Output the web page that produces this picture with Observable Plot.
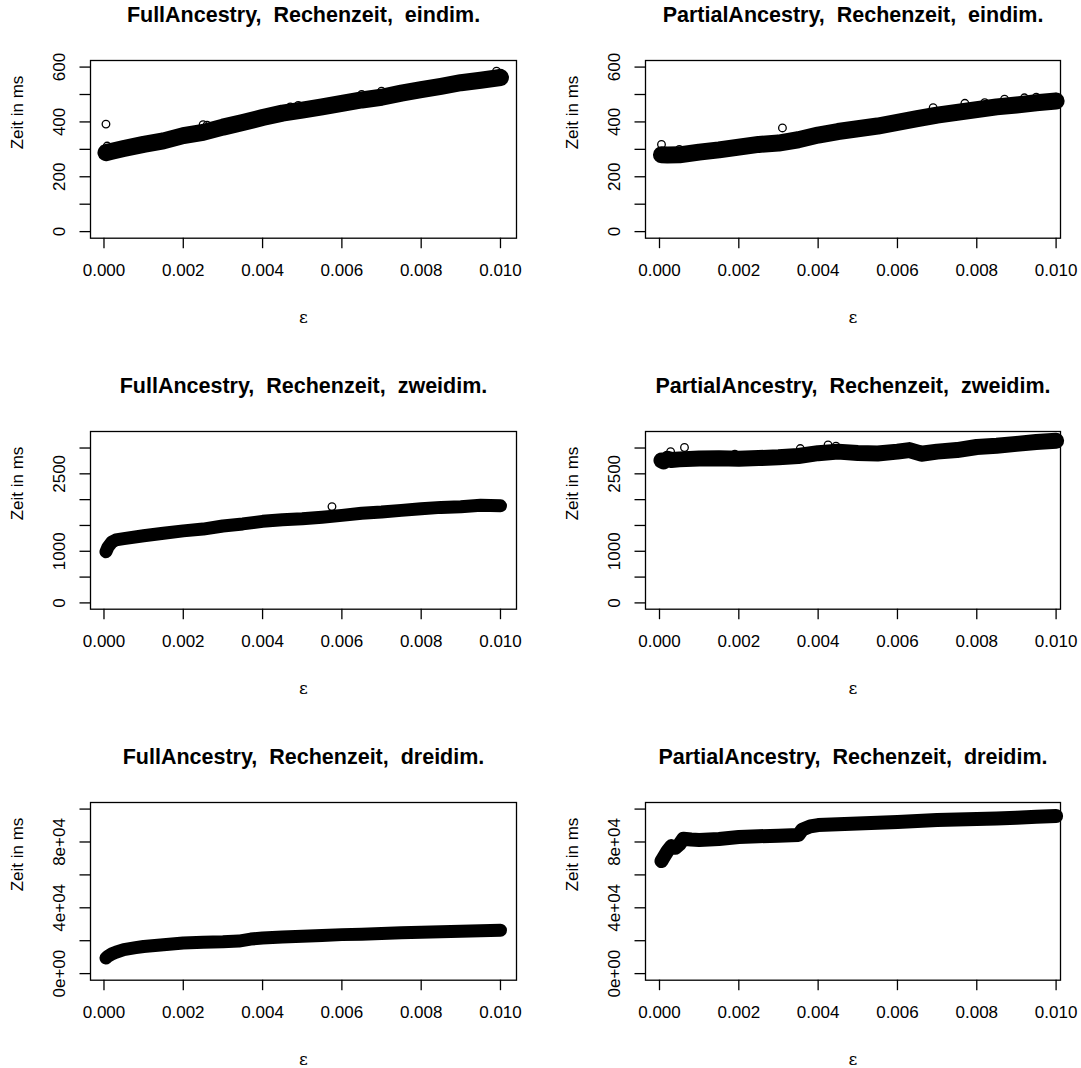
<!DOCTYPE html>
<html><head><meta charset="utf-8">
<script src="https://cdn.jsdelivr.net/npm/d3@7"></script>
<script src="https://cdn.jsdelivr.net/npm/@observablehq/plot@0.6"></script>
<style>
body{margin:0;background:#fff;}
#root{position:relative;width:1081px;height:1068px;overflow:hidden;background:#fff;}
.panel{position:absolute;}
.panel svg{overflow:visible;}
</style></head><body><div id="root"></div>
<script>
// ---- text ----
const titles = [
  "FullAncestry,  Rechenzeit,  eindim.", "PartialAncestry,  Rechenzeit,  eindim.",
  "FullAncestry,  Rechenzeit,  zweidim.", "PartialAncestry,  Rechenzeit,  zweidim.",
  "FullAncestry,  Rechenzeit,  dreidim.", "PartialAncestry,  Rechenzeit,  dreidim."
];
const yLabel = "Zeit in ms";
const xLabel = "ε";
const xTicks = [0, 0.002, 0.004, 0.006, 0.008, 0.010];
const xTickLabels = ["0.000", "0.002", "0.004", "0.006", "0.008", "0.010"];

const yTicks1 = [0, 100, 200, 300, 400, 500, 600];
const yLab1 = [0, 200, 400, 600];
const yLabText1 = ["0", "200", "400", "600"];
const yTicks2 = [0, 500, 1000, 1500, 2000, 2500, 3000];
const yLab2 = [0, 1000, 2500];
const yLabText2 = ["0", "1000", "2500"];
const yTicks3 = [0, 20000, 40000, 60000, 80000, 100000];
const yLab3 = [0, 40000, 80000];
const yLabText3 = ["0e+00", "4e+04", "8e+04"];

// ---- data: FullAncestry eindim ----
const eps1 = [0.00005,0.0002,0.0005,0.001,0.0015,0.002,0.0025,0.003,0.0035,0.004,0.0045,0.005,0.0055,0.006,0.0065,0.007,0.0075,0.008,0.0085,0.009,0.0095,0.01];
const val1 = [288,293,303,318,331,350,362,381,398,416,432,443,455,468,480,490,505,518,530,543,552,562];
const out1x = [0.00005,0.00008,0.0025,0.0026,0.0047,0.0049,0.0065,0.0070,0.0099,0.0100];
const out1y = [392,312,390,388,455,460,500,512,585,578];

// ---- PartialAncestry eindim ----
const eps2 = [0.00005,0.0002,0.0005,0.001,0.0015,0.002,0.0025,0.003,0.0035,0.004,0.0045,0.005,0.0055,0.006,0.0065,0.007,0.0075,0.008,0.0085,0.009,0.0095,0.01];
const val2 = [280,279,280,290,298,308,318,323,335,352,365,375,385,398,412,425,435,445,455,462,470,476];
const out2x = [0.00005,0.0005,0.0031,0.0069,0.0077,0.0082,0.0087,0.0092,0.0095,0.0100];
const out2y = [318,300,378,452,468,470,483,488,490,490];

// ---- FullAncestry zweidim ----
const eps3 = [0.00005,0.0001,0.0002,0.0003,0.0005,0.001,0.0015,0.002,0.0025,0.003,0.0035,0.004,0.0045,0.005,0.0055,0.006,0.0065,0.007,0.0075,0.008,0.0085,0.009,0.0095,0.01];
const val3 = [990,1080,1180,1220,1245,1300,1350,1395,1430,1490,1530,1580,1610,1630,1660,1695,1738,1760,1792,1822,1850,1862,1893,1880];
const out3x = [0.00575];
const out3y = [1865];

// ---- PartialAncestry zweidim ----
const eps4 = [0.00005,0.0001,0.0002,0.0003,0.0005,0.001,0.0015,0.002,0.0025,0.003,0.0035,0.004,0.0045,0.005,0.0055,0.006,0.0063,0.0066,0.007,0.0075,0.008,0.0085,0.009,0.0095,0.01];
const val4 = [2760,2740,2790,2770,2780,2795,2800,2790,2805,2820,2845,2900,2930,2905,2895,2930,2960,2890,2930,2960,3020,3045,3080,3115,3140];
const out4x = [0.00028,0.00063,0.00355,0.00425,0.00445,0.0019];
const out4y = [2930,3010,2990,3060,3035,2880];

// ---- FullAncestry dreidim ----
const eps5 = [0.00005,0.0001,0.0002,0.0003,0.0005,0.0008,0.001,0.0015,0.002,0.0025,0.003,0.0034,0.0037,0.004,0.0045,0.005,0.0055,0.006,0.0065,0.007,0.0075,0.008,0.0085,0.009,0.0095,0.01];
const val5 = [9500,10500,12000,13000,14600,15800,16500,17500,18600,19100,19300,19800,21000,21600,22200,22700,23200,23700,24000,24400,24800,25100,25400,25800,26100,26400];
const out5x = [];
const out5y = [];

// ---- PartialAncestry dreidim ----
const eps6 = [0.00005,0.0001,0.0002,0.0003,0.0004,0.0005,0.0006,0.0008,0.001,0.0015,0.002,0.0025,0.003,0.0035,0.0036,0.0038,0.004,0.0045,0.005,0.0055,0.006,0.0065,0.007,0.0075,0.008,0.0085,0.009,0.0095,0.01];
const val6 = [68400,70500,74500,77500,76500,78500,82000,81500,81200,81800,83000,83500,83800,84200,87500,89500,90300,90800,91200,91700,92200,92700,93400,93600,93900,94300,94800,95300,95800];
const out6x = [];
const out6y = [];

// ---- layout ----
const leftCol = {left: 0, w: 540, ml: 90, mr: 24, xdom: [-0.00034, 0.010404]};
const rightCol = {left: 540, w: 541, ml: 105, mr: 21, xdom: [-0.000353, 0.010111]};
const rows = [
  {top: 0, ydom: [-24, 624], ticks: yTicks1, lab: yLab1, labText: yLabText1},
  {top: 371, ydom: [-122, 3320], ticks: yTicks2, lab: yLab2, labText: yLabText2},
  {top: 742, ydom: [-4000, 104000], ticks: yTicks3, lab: yLab3, labText: yLabText3}
];
const panels = [
  {col: leftCol, row: rows[0], title: titles[0], eps: eps1, val: val1, ox: out1x, oy: out1y, bw: 17},
  {col: rightCol, row: rows[0], title: titles[1], eps: eps2, val: val2, ox: out2x, oy: out2y, bw: 17},
  {col: leftCol, row: rows[1], title: titles[2], eps: eps3, val: val3, ox: out3x, oy: out3y, bw: 13},
  {col: rightCol, row: rows[1], title: titles[3], eps: eps4, val: val4, ox: out4x, oy: out4y, bw: 16},
  {col: leftCol, row: rows[2], title: titles[4], eps: eps5, val: val5, ox: out5x, oy: out5y, bw: 13},
  {col: rightCol, row: rows[2], title: titles[5], eps: eps6, val: val6, ox: out6x, oy: out6y, bw: 14}
];

const FONT = "'Liberation Sans', Arial, Helvetica, sans-serif";
const root = document.getElementById("root");

for (const p of panels) {
  const band = p.eps.map((e, i) => ({x: e, y: p.val[i]}));
  const outs = p.ox.map((e, i) => ({x: e, y: p.oy[i]}));
  const chart = Plot.plot({
    width: p.col.w, height: 370,
    marginLeft: p.col.ml, marginRight: p.col.mr, marginTop: 60, marginBottom: 132.3,
    x: {domain: p.col.xdom},
    y: {domain: p.row.ydom},
    style: {fontFamily: FONT, fontSize: "17px", color: "black", background: "white"},
    marks: [
      Plot.line(band, {x: "x", y: "y", stroke: "black", strokeWidth: p.bw, strokeLinecap: "round", strokeLinejoin: "round"}),
      Plot.dot(band, {x: "x", y: "y", r: 3.8, stroke: "black", strokeWidth: 1.3, fill: "none"}),
      Plot.dot(outs, {x: "x", y: "y", r: 3.8, stroke: "black", strokeWidth: 1.3, fill: "none"}),
      Plot.frame({stroke: "black", strokeWidth: 1.3}),
      Plot.axisX({ticks: xTicks, tickSize: 10.5, tickFormat: () => "", label: null, strokeWidth: 1.3}),
      Plot.text(xTicks, {x: d => d, frameAnchor: "bottom", dy: 32, text: (d, i) => xTickLabels[i], fontSize: 17, lineAnchor: "middle", fill: "black"}),
      Plot.axisY({ticks: p.row.ticks, tickSize: 10.5, tickFormat: () => "", label: null, strokeWidth: 1.3}),
      Plot.text(p.row.lab, {y: d => d, frameAnchor: "left", dx: -31, rotate: -90, text: (d, i) => p.row.labText[i], fontSize: 17, lineAnchor: "middle", textAnchor: "middle", fill: "black"}),
      Plot.text([yLabel], {frameAnchor: "left", dx: -72.6, rotate: -90, text: d => d, fontSize: 17, lineAnchor: "middle", fill: "black"}),
      Plot.text([p.title], {frameAnchor: "top", dy: -45, text: d => d, fontSize: 21.5, fontWeight: "bold", lineAnchor: "middle", fill: "black"}),
      Plot.text([xLabel], {frameAnchor: "bottom", dy: 79, text: d => d, fontSize: 17, fontFamily: "'DejaVu Serif', serif", lineAnchor: "middle", fill: "black"})
    ]
  });
  const div = document.createElement("div");
  div.className = "panel";
  div.style.left = p.col.left + "px";
  div.style.top = p.row.top + "px";
  div.appendChild(chart);
  root.appendChild(div);
}
</script></body></html>
